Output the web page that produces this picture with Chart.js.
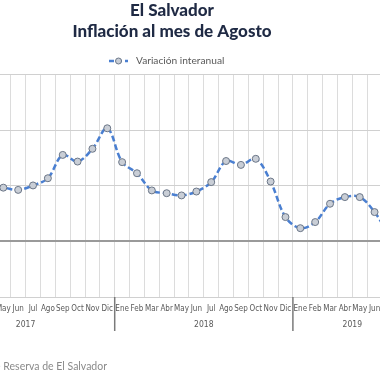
<!DOCTYPE html>
<html>
<head>
<meta charset="utf-8">
<script src="https://cdn.jsdelivr.net/npm/chart.js@4.4.0/dist/chart.umd.min.js"></script>
<style>
  html, body { margin: 0; padding: 0; background: #fff; overflow: hidden; }
  #wrap { position: absolute; left: -100px; top: 0; width: 544px; height: 380px; }
</style>
</head>
<body>
<div id="wrap"><canvas id="chart" width="544" height="380"></canvas></div>
<script>
// ===== Datos
const meses = ['Ene', 'Feb', 'Mar', 'Abr', 'May', 'Jun', 'Jul', 'Ago', 'Sep', 'Oct', 'Nov', 'Dic'];
const anios = ['2017', '2018', '2019'];
const mesesPorAnio = [12, 12, 8];

// los meses que quedan fuera del recorte van en null
const inflacion2017 = [null, null, null, 0.98, 0.97, 0.93, 1.01, 1.14, 1.56, 1.44, 1.67, 2.04];
const inflacion2018 = [1.43, 1.23, 0.92, 0.87, 0.83, 0.90, 1.07, 1.45, 1.38, 1.49, 1.08, 0.44];
const inflacion2019 = [0.24, 0.35, 0.68, 0.80, 0.80, 0.53, 0.10, null];

const yTicks = [-1, 0, 1, 2, 3];

const labels = [];
anios.forEach((a, i) => { for (let m = 0; m < mesesPorAnio[i]; m++) labels.push(meses[m]); });
const valores = [...inflacion2017, ...inflacion2018, ...inflacion2019];

const AZUL = '#4a7fd1';
const GRIS_TXT = '#595959';
const OFFSET = 100; // el canvas empieza 100px fuera de la ventana

// ===== Plugin: años, separadores, leyenda y fuente
const extras = {
  id: 'extras',
  afterDraw(chart) {
    const { ctx, scales: { x } } = chart;
    ctx.save();

    // años + separadores
    ctx.font = '8.5px "DejaVu Sans Condensed", "DejaVu Sans", sans-serif';
    ctx.fillStyle = GRIS_TXT;
    ctx.textAlign = 'center';
    ctx.textBaseline = 'middle';
    let idx = 0;
    anios.forEach((a, i) => {
      const first = idx, last = idx + mesesPorAnio[i] - 1;
      const cx = (x.getPixelForValue(first) + x.getPixelForValue(last)) / 2;
      ctx.fillText(a, cx, 325);
      if (i < anios.length - 1) {
        const sx = (x.getPixelForValue(last) + x.getPixelForValue(last + 1)) / 2;
        ctx.strokeStyle = '#7a7a7a';
        ctx.lineWidth = 1.5;
        ctx.beginPath();
        ctx.moveTo(sx, chart.chartArea.bottom);
        ctx.lineTo(sx, 331);
        ctx.stroke();
      }
      idx += mesesPorAnio[i];
    });

    // leyenda
    const ly = 61, lx = 109 + OFFSET;
    ctx.strokeStyle = AZUL;
    ctx.lineWidth = 2.5;
    ctx.setLineDash([5, 3]);
    ctx.beginPath();
    ctx.moveTo(lx, ly);
    ctx.lineTo(lx + 19, ly);
    ctx.stroke();
    ctx.setLineDash([]);
    ctx.beginPath();
    ctx.arc(lx + 9.5, ly, 3, 0, Math.PI * 2);
    ctx.fillStyle = '#c9ced6';
    ctx.fill();
    ctx.strokeStyle = '#6b7687';
    ctx.lineWidth = 1;
    ctx.stroke();
    ctx.font = '10.2px Lato, "Open Sans", sans-serif';
    ctx.fillStyle = GRIS_TXT;
    ctx.textAlign = 'left';
    ctx.fillText('Variación interanual', lx + 27, ly);

    // fuente (recortada por la izquierda)
    ctx.font = '10.5px Lato, "Open Sans", sans-serif';
    ctx.fillStyle = '#8a8a8a';
    ctx.textAlign = 'right';
    ctx.fillText('Fuente: Banco Central de Reserva de El Salvador', 107 + OFFSET, 366.5);
    ctx.restore();
  }
};

new Chart(document.getElementById('chart'), {
  type: 'line',
  data: {
    labels,
    datasets: [{
      label: 'Variación interanual',
      data: valores,
      borderColor: AZUL,
      borderWidth: 2.5,
      borderDash: [6, 3],
      tension: 0.35,
      pointRadius: 3.5,
      pointBackgroundColor: '#c9ced6',
      pointBorderColor: '#6b7687',
      pointBorderWidth: 1
    }]
  },
  options: {
    responsive: false,
    animation: false,
    // padding simétrico para que el título quede centrado como en el original
    layout: { padding: { left: 32.3, right: 32.3, top: 0, bottom: 0 } },
    plugins: {
      legend: { display: false },
      tooltip: { enabled: false },
      title: {
        display: true,
        text: ['El Salvador', 'Inflación al mes de Agosto'],
        color: '#1f2a44',
        font: { family: 'Lato, "DejaVu Sans", sans-serif', size: 17, weight: 900, lineHeight: 1.235 },
        padding: { top: 0, bottom: 33 }
      }
    },
    scales: {
      x: {
        offset: true,
        grid: { offset: true, color: '#dcdcdc', lineWidth: 1, drawTicks: false },
        border: { display: false },
        ticks: {
          autoSkip: false, maxRotation: 0, minRotation: 0, padding: 7,
          color: GRIS_TXT,
          font: { family: '"DejaVu Sans Condensed", "DejaVu Sans", sans-serif', size: 8 }
        },
        afterFit(scale) { scale.height = 83; }
      },
      y: {
        min: -1, max: 3,
        afterBuildTicks(scale) { scale.ticks = yTicks.map(v => ({ value: v })); },
        ticks: { display: false },
        border: { display: false },
        grid: {
          drawTicks: false,
          color: c => c.tick.value === 0 ? '#9a9a9a' : '#d0d0d0',
          lineWidth: c => c.tick.value === 0 ? 2 : 1
        },
        afterFit(scale) { scale.width = 4.2; }
      }
    }
  },
  plugins: [extras]
});
</script>
</body>
</html>
